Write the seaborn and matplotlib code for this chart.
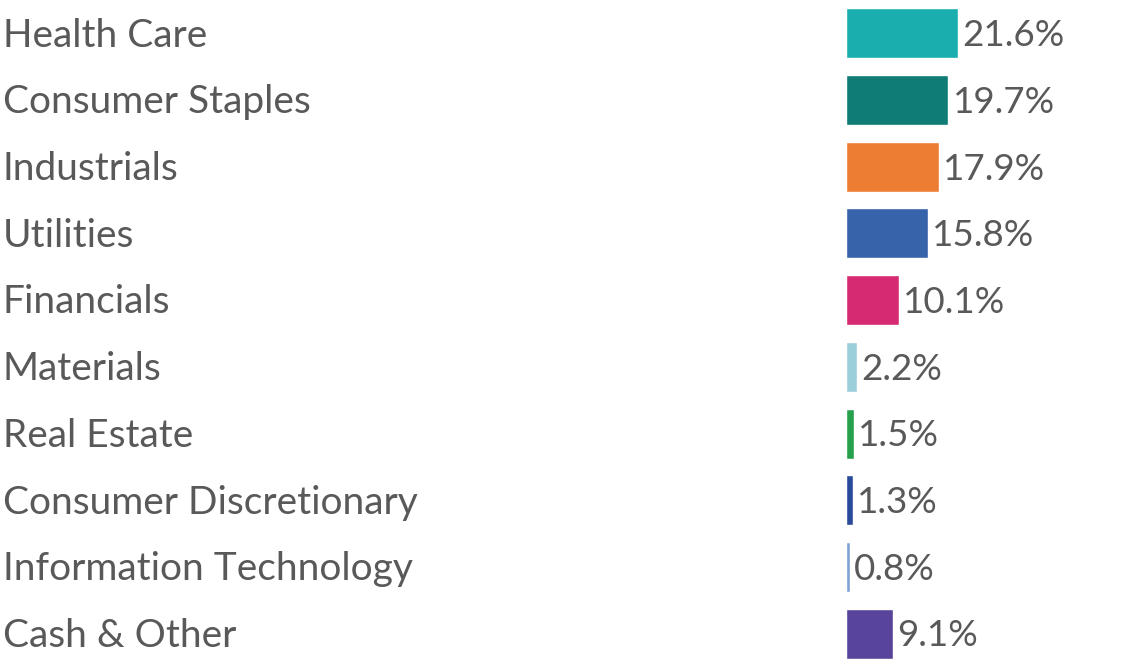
import matplotlib
matplotlib.use("Agg")
import matplotlib.pyplot as plt
import matplotlib.transforms as mtransforms
import seaborn as sns
import pandas as pd

categories = ["Health Care", "Consumer Staples", "Industrials", "Utilities", "Financials",
              "Materials", "Real Estate", "Consumer Discretionary", "Information Technology",
              "Cash & Other"]
values = [21.6, 19.7, 17.9, 15.8, 10.1, 2.2, 1.5, 1.3, 0.8, 9.1]
labels = ["21.6%", "19.7%", "17.9%", "15.8%", "10.1%", "2.2%", "1.5%", "1.3%", "0.8%", "9.1%"]
colors = ["#1BAEAE", "#0F7C76", "#ED7D33", "#3763AB", "#D62B72", "#9BCFD9", "#27A04B",
          "#2A4B9B", "#7FA2D6", "#58449B"]

sns.set_theme(style="white")
plt.rcParams["font.family"] = ["Lato", "DejaVu Sans"]

df = pd.DataFrame({"cat": categories, "val": values})

fig = plt.figure(figsize=(11.25, 6.67), dpi=100)
W, H = 1125, 667
ax = fig.add_axes([846 / W, 0, 1 - 846 / W, 1])
sns.barplot(data=df, y="cat", x="val", hue="cat", palette=colors, legend=False,
            orient="h", width=0.75, ax=ax, saturation=1)
ax.set_xlim(0, (W - 846) / 5.2)
ax.set_ylim(len(categories) - 0.5, -0.5)
ax.axis("off")

txt_color = "#595959"
trans = mtransforms.blended_transform_factory(fig.transFigure, ax.transData)
dy = 0.035
for i, (c, v, lab) in enumerate(zip(categories, values, labels)):
    ax.text(v + 0.8, i + dy, lab, va="center", ha="left", fontsize=26.5,
            color=txt_color, fontweight="normal")
    ax.text(3 / W, i + dy, c, transform=trans, va="center", ha="left", fontsize=28,
            color=txt_color, fontweight="normal")

fig.savefig("out.png", dpi=100)
